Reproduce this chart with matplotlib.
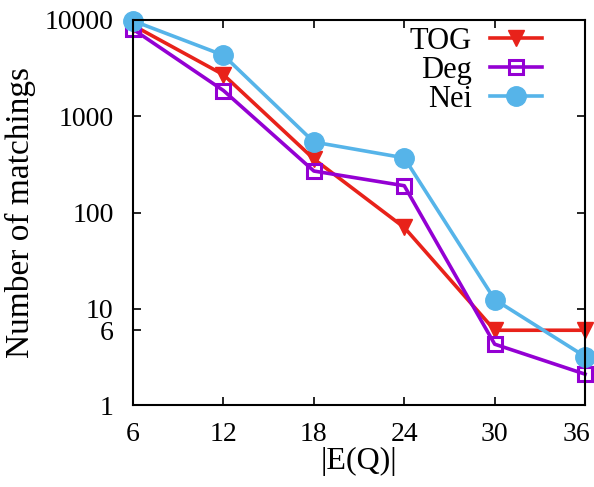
import matplotlib
matplotlib.use("Agg")
import matplotlib.pyplot as plt
import matplotlib.transforms as mtransforms
from matplotlib.ticker import FixedLocator, NullLocator

plt.rcParams["font.family"] = ["Liberation Serif", "DejaVu Serif"]

edges = [6, 12, 18, 24, 30, 36]
tog = [8800, 2700, 360, 70, 6, 6]
deg = [8000, 1850, 270, 190, 4.3, 2.1]
nei = [9800, 4300, 540, 370, 12.5, 3.2]
yticks = [1, 6, 10, 100, 1000, 10000]

fig = plt.figure(figsize=(5.94, 4.87), dpi=100)
ax = fig.add_axes([0.224, 0.168, 0.761, 0.791])

ax.plot(edges, tog, color="#e8221a", lw=2.6, marker="v", ms=12, label="TOG", clip_on=False)
ax.plot(edges, deg, color="#9400d3", lw=2.6, marker="s", ms=10, mfc="none", mew=2.2, label="Deg", clip_on=False)
ax.plot(edges, nei, color="#56b4e9", lw=2.6, marker="o", ms=14, label="Nei", clip_on=False)

ax.set_yscale("log")
ax.set_xlim(6, 36)
ax.set_ylim(1, 10000)
ax.set_xticks(edges)
ax.yaxis.set_major_locator(FixedLocator(yticks))
ax.yaxis.set_minor_locator(NullLocator())
ax.set_yticklabels([str(v) for v in yticks])
ax.tick_params(direction="in", length=6, width=1.2, labelsize=20, top=True, right=True)
ax.tick_params(axis="y", pad=14)
ax.tick_params(axis="x", pad=12)
for s in ax.spines.values():
    s.set_linewidth(1.5)

# gnuplot nudges the last x label inward so it stays on the canvas
last = ax.get_xticklabels()[-1]
last.set_transform(last.get_transform() + mtransforms.ScaledTranslation(-6 / 72, 0, fig.dpi_scale_trans))

ax.set_xlabel("|E(Q)|", fontsize=23, labelpad=0)
ax.set_ylabel("Number of matchings", fontsize=24, labelpad=6)

ax.legend(loc="upper right", bbox_to_anchor=(542 / 594, 1 - 27 / 487),
          bbox_transform=fig.transFigure, frameon=False, markerfirst=False,
          fontsize=22, handlelength=1.7, handletextpad=0.6, labelspacing=0.0,
          borderaxespad=0, borderpad=0)

fig.savefig("out.png", dpi=100)
